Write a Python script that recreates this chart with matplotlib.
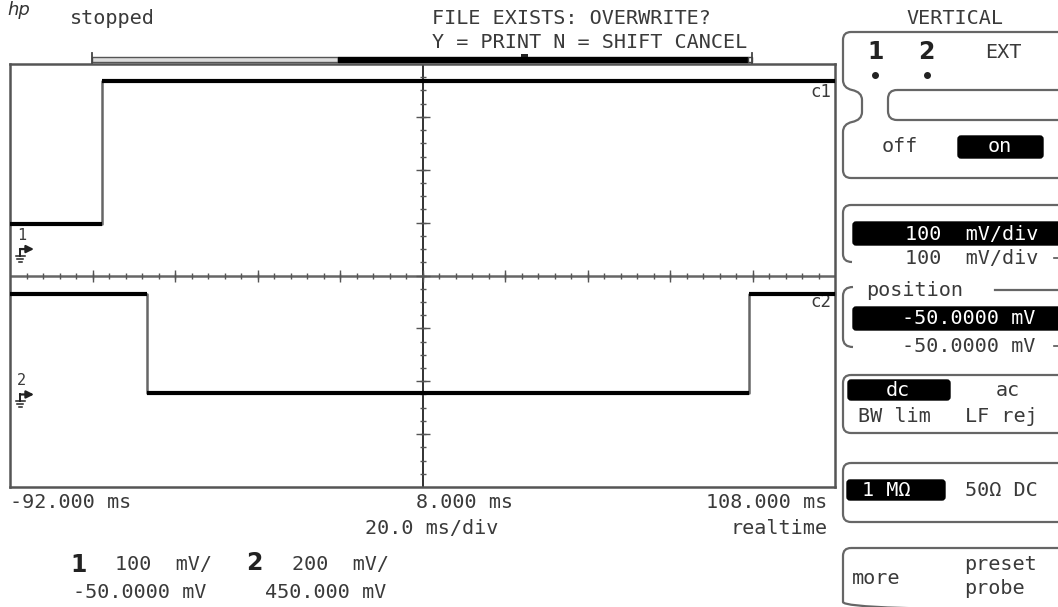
import numpy as np
import matplotlib
matplotlib.use("Agg")
import matplotlib.pyplot as plt
from matplotlib.patches import FancyBboxPatch, Rectangle, PathPatch
from matplotlib.path import Path

# ---------------- data ----------------
time_range_ms = [-92.0, 108.0]        # screen left / right
time_center_ms = 8.0
ch1_scale_mv = 100.0                  # mV/div
ch1_offset_mv = -50.0
ch2_scale_mv = 200.0
ch2_offset_mv = 450.0

ch1_edges_ms = [-92.0, -69.7, 108.0]          # segment boundaries
ch1_levels_mv = [47.0, 318.0]                 # level on each segment
ch2_edges_ms = [-92.0, -58.8, 87.2, 108.0]
ch2_levels_mv = [380.0, 5.0, 380.0]

bottom_time_labels = ["-92.000 ms", "8.000 ms", "108.000 ms"]

W, H = 1058, 607
fig = plt.figure(figsize=(W / 100, H / 100), dpi=100)
fig.patch.set_facecolor("white")

TXT = "#3a3a3a"
MONO = ["DejaVu Sans Mono", "DejaVu Sans"]
FS = 14.5

# ---------------- scope graticule ----------------
L, R, T_, B = 10, 835, 64, 487
ax = fig.add_axes([L / W, 1 - B / H, (R - L) / W, (B - T_) / H])
ax.set_xlim(*time_range_ms)
ax.set_ylim(-4, 4)
ax.set_xticks([])
ax.set_yticks([])
for s in ax.spines.values():
    s.set_color("#555555")
    s.set_linewidth(1.8)

ax.axvline(time_center_ms, color="#222222", lw=1.3, zorder=2)
ax.axhline(0, color="#666666", lw=1.8, zorder=2)

minor_t = np.arange(time_range_ms[0] + 4, time_range_ms[1], 4)
major_t = np.arange(time_range_ms[0] + 20, time_range_ms[1], 20)
ax.plot(minor_t, np.zeros_like(minor_t), ls="none", marker="|", ms=5.0,
        mew=1.0, color="#555555", zorder=3)
ax.plot(major_t, np.zeros_like(major_t), ls="none", marker="|", ms=9,
        mew=1.0, color="#555555", zorder=3)
minor_v = np.arange(-3.75, 4, 0.25)
major_v = np.arange(-3, 4, 1.0)
ax.plot(np.full_like(minor_v, time_center_ms), minor_v, ls="none", marker="_",
        ms=4.5, mew=1.0, color="#555555", zorder=3)
ax.plot(np.full_like(major_v, time_center_ms), major_v, ls="none", marker="_",
        ms=10, mew=1.0, color="#555555", zorder=3)


def to_div(mv, off, sc):
    return (np.asarray(mv) - off) / sc


def draw_trace(edges, levels, off, sc):
    d = to_div(levels, off, sc)
    y = np.append(d, d[-1])
    ax.plot(edges, y, drawstyle="steps-post", color="#666666", lw=1.8, zorder=4)
    ax.hlines(d, edges[:-1], edges[1:], color="black", lw=3.0, zorder=5)


draw_trace(ch1_edges_ms, ch1_levels_mv, ch1_offset_mv, ch1_scale_mv)
draw_trace(ch2_edges_ms, ch2_levels_mv, ch2_offset_mv, ch2_scale_mv)

# ground markers (0 V level of each channel)
pxx = (time_range_ms[1] - time_range_ms[0]) / (R - L)   # ms per pixel
pxy = 8.0 / (B - T_)                                    # div per pixel
for num, off, sc in [("1", ch1_offset_mv, ch1_scale_mv), ("2", ch2_offset_mv, ch2_scale_mv)]:
    g = float(to_div(0.0, off, sc))
    x0 = time_range_ms[0] + 10 * pxx
    ax.annotate("", xy=(x0 + 14 * pxx, g), xytext=(x0, g),
                arrowprops=dict(arrowstyle="-|>", color="#222222", lw=1.6,
                                mutation_scale=11, shrinkA=0, shrinkB=0), zorder=6)
    ax.plot([x0, x0], [g, g - 7 * pxy], color="#222222", lw=1.4, zorder=6)
    for k, hw in enumerate([4.5, 3.0, 1.5]):
        yy = g - (7 + 3 * k) * pxy
        ax.plot([x0 - hw * pxx, x0 + hw * pxx], [yy, yy], color="#222222", lw=1.1, zorder=6)
    ax.text(x0 + 1.5 * pxx, g + 6 * pxy, num, fontsize=11, family=MONO, color=TXT,
            ha="center", va="bottom", zorder=6)

ax.text(0.995, float(to_div(ch1_levels_mv[1], ch1_offset_mv, ch1_scale_mv)) - 11 * pxy, "c1",
        transform=ax.get_yaxis_transform(), fontsize=12.5, family=MONO, color=TXT,
        ha="right", va="center", zorder=6)
ax.text(0.995, float(to_div(ch2_levels_mv[0], ch2_offset_mv, ch2_scale_mv)) - 8 * pxy, "c2",
        transform=ax.get_yaxis_transform(), fontsize=12.5, family=MONO, color=TXT,
        ha="right", va="center", zorder=4)

# ---------------- overlay (pixel coordinates) ----------------
ov = fig.add_axes([0, 0, 1, 1], zorder=10)
ov.set_xlim(0, W)
ov.set_ylim(H, 0)
ov.axis("off")
ov.patch.set_alpha(0)


def t(x, y, s, ha="left", color=TXT, size=FS, **kw):
    ov.text(x, y, s, ha=ha, va="center", color=color, fontsize=size, family=MONO, **kw)


# header
ov.text(7, 10, "hp", fontsize=13, style="italic", family="DejaVu Sans", color="#333333",
        ha="left", va="center")
t(70, 18, "stopped")
t(432, 18, "FILE EXISTS: OVERWRITE?")
t(432, 42, "Y = PRINT N = SHIFT CANCEL")

# memory bar
ov.add_patch(Rectangle((92, 57), 246, 5, facecolor="#dddddd", edgecolor="#555555", lw=1.0))
ov.add_patch(Rectangle((338, 57), 410, 5, facecolor="black", edgecolor="black", lw=1.0))
ov.add_patch(Rectangle((748, 57), 4, 5, facecolor="white", edgecolor="#444444", lw=1.0))
ov.plot([92, 92], [53, 63], color="#444444", lw=1.3)
ov.plot([752, 752], [53, 63], color="#444444", lw=1.3)
ov.add_patch(Rectangle((521, 53.5), 7, 3, facecolor="#222222", edgecolor="none"))

# bottom time labels
t(10, 503, bottom_time_labels[0])
t(416, 503, bottom_time_labels[1])
t(827, 503, bottom_time_labels[2], ha="right")
t(365, 528, "20.0 ms/div")
t(827, 528, "realtime", ha="right")

# channel summary
ov.text(70, 565, "1", fontsize=17, fontweight="bold", family="DejaVu Sans", color="#222222",
        ha="left", va="center")
t(115, 565, "100  mV/")
ov.text(246, 563, "2", fontsize=17, fontweight="bold", family="DejaVu Sans", color="#222222",
        ha="left", va="center")
t(292, 565, "200  mV/")
t(73, 592, "-50.0000 mV")
t(265, 592, "450.000 mV")

# ---------------- right panel ----------------
EC = "#666666"
LW = 1.6
t(906, 18, "VERTICAL")

# box 1 with notch
C3 = Path.CURVE3
verts = [(1075, 32), (851, 32), (843, 32), (843, 40), (843, 80), (843, 88), (852, 90),
         (862, 92), (862, 100), (862, 112), (862, 120), (852, 122), (843, 124), (843, 132),
         (843, 170), (843, 178), (851, 178), (1075, 178)]
codes = [Path.MOVETO, Path.LINETO, C3, C3, Path.LINETO, C3, C3, C3, C3, Path.LINETO,
         C3, C3, C3, C3, Path.LINETO, C3, C3, Path.LINETO]
ov.add_patch(PathPatch(Path(verts, codes), facecolor="none", edgecolor=EC, lw=LW))
ov.add_patch(FancyBboxPatch((888, 90), 200, 30, boxstyle="round,pad=0,rounding_size=9",
                            facecolor="none", edgecolor=EC, lw=LW))
ov.text(867, 52, "1", fontsize=17, fontweight="bold", family="DejaVu Sans", color="#222222",
        ha="left", va="center")
ov.text(918, 52, "2", fontsize=17, fontweight="bold", family="DejaVu Sans", color="#222222",
        ha="left", va="center")
ov.plot([875, 927], [75, 75], ls="none", marker="o", ms=4, color="#222222")
t(985, 52, "EXT")
t(882, 146, "off")
ov.add_patch(FancyBboxPatch((958, 136), 85, 22, boxstyle="round,pad=0,rounding_size=3",
                            facecolor="black", edgecolor="black", lw=1))
t(1000, 147, "on", ha="center", color="white")

# box 2 brackets
verts = [(1075, 205), (851, 205), (843, 205), (843, 213), (843, 254), (843, 262), (852, 262)]
codes = [Path.MOVETO, Path.LINETO, C3, C3, Path.LINETO, C3, C3]
ov.add_patch(PathPatch(Path(verts, codes), facecolor="none", edgecolor=EC, lw=LW))
verts = [(853, 287), (843, 287), (843, 296), (843, 338), (843, 347), (853, 347)]
codes = [Path.MOVETO, C3, C3, Path.LINETO, C3, C3]
ov.add_patch(PathPatch(Path(verts, codes), facecolor="none", edgecolor=EC, lw=LW))
ov.add_patch(FancyBboxPatch((853, 222), 210, 23, boxstyle="round,pad=0,rounding_size=3",
                            facecolor="black", edgecolor="black", lw=1))
t(905, 234, "100  mV/div", color="white")
t(905, 258, "100  mV/div")
ov.plot([1054, 1058], [258, 258], color="#555555", lw=1.2)
t(866, 290, "position")
ov.plot([995, 1058], [290, 290], color=EC, lw=LW)
ov.add_patch(FancyBboxPatch((853, 307), 210, 23, boxstyle="round,pad=0,rounding_size=3",
                            facecolor="black", edgecolor="black", lw=1))
t(902, 319, "-50.0000 mV", color="white")
t(902, 346, "-50.0000 mV")
ov.plot([1054, 1058], [346, 346], color="#555555", lw=1.2)

# box 3
ov.add_patch(FancyBboxPatch((843, 375), 240, 58, boxstyle="round,pad=0,rounding_size=8",
                            facecolor="none", edgecolor=EC, lw=LW))
ov.add_patch(FancyBboxPatch((848, 380), 102, 20, boxstyle="round,pad=0,rounding_size=3",
                            facecolor="black", edgecolor="black", lw=1))
t(898, 390, "dc", ha="center", color="white")
t(1008, 390, "ac", ha="center")
t(858, 417, "BW lim")
t(965, 417, "LF rej")

# box 4
ov.add_patch(FancyBboxPatch((843, 463), 240, 59, boxstyle="round,pad=0,rounding_size=8",
                            facecolor="none", edgecolor=EC, lw=LW))
ov.add_patch(FancyBboxPatch((847, 480), 98, 20, boxstyle="round,pad=0,rounding_size=3",
                            facecolor="black", edgecolor="black", lw=1))
t(862, 490, "1 M\u03a9", color="white")
t(965, 490, "50\u03a9 DC")

# box 5
ov.add_patch(FancyBboxPatch((843, 548), 240, 62, boxstyle="round,pad=0,rounding_size=8",
                            facecolor="none", edgecolor=EC, lw=LW))
t(852, 578, "more")
t(964, 564, "preset")
t(964, 589, "probe")

fig.savefig("out.png", dpi=100, facecolor="white")
